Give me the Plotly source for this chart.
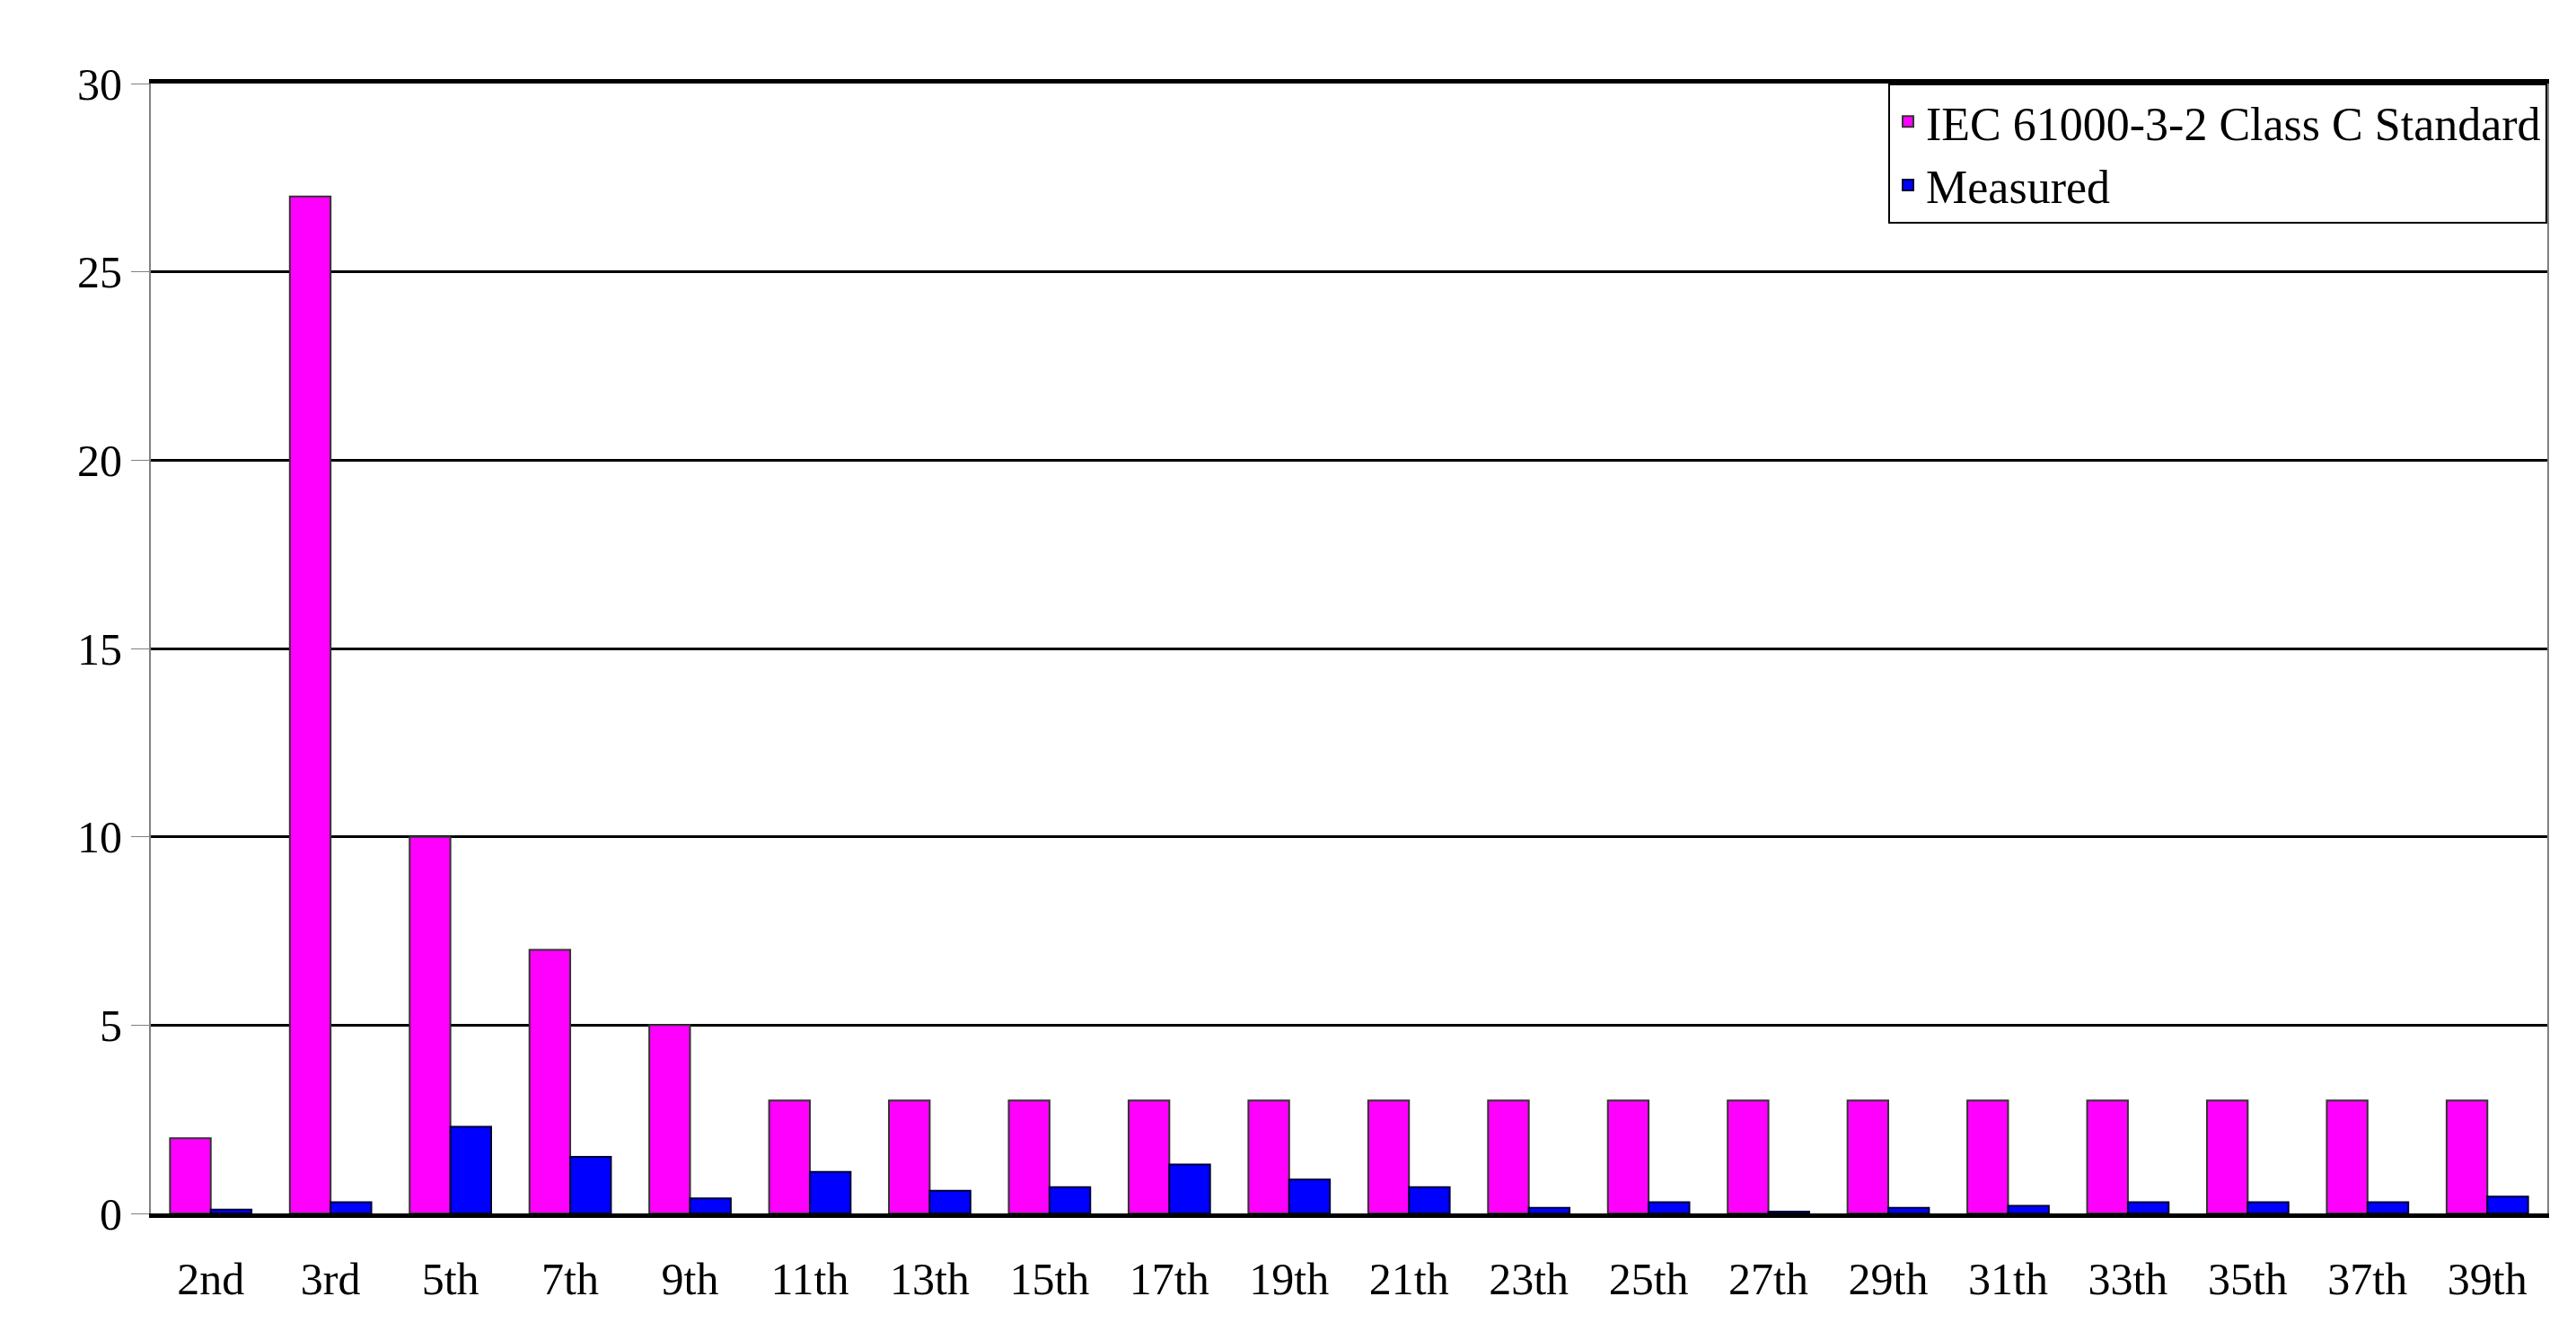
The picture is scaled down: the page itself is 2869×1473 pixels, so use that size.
import plotly.graph_objects as go

categories = ["2nd","3rd","5th","7th","9th","11th","13th","15th","17th","19th","21th","23th","25th","27th","29th","31th","33th","35th","37th","39th"]
standard = [2, 27, 10, 7, 5, 3, 3, 3, 3, 3, 3, 3, 3, 3, 3, 3, 3, 3, 3, 3]
measured = [0.1, 0.3, 2.3, 1.5, 0.4, 1.1, 0.6, 0.7, 1.3, 0.9, 0.7, 0.15, 0.3, 0.05, 0.15, 0.2, 0.3, 0.3, 0.3, 0.45]

fig = go.Figure()
fig.add_bar(x=categories, y=standard, name="IEC 61000-3-2 Class C Standard",
            marker=dict(color="#FF00FF", line=dict(color="#333333", width=2)))
fig.add_bar(x=categories, y=measured, name="Measured",
            marker=dict(color="#0000FF", line=dict(color="#000033", width=2)))
fig.update_layout(
    width=2869, height=1473, barmode="group", bargap=0.32, bargroupgap=0,
    plot_bgcolor="white", paper_bgcolor="white",
    font=dict(family="Liberation Serif", size=52, color="black"),
    margin=dict(l=160, r=40, t=85, b=130),
    legend=dict(x=1, y=1, xanchor="right", yanchor="top", bordercolor="black", borderwidth=2,
                bgcolor="white", font=dict(size=52), tracegroupgap=10),
    xaxis=dict(showline=True, linecolor="black", linewidth=5, ticks="outside", ticklen=25,
               tickcolor="white", tickfont=dict(size=50), mirror=True),
    yaxis=dict(range=[0, 30], dtick=5, showgrid=True, gridcolor="black", gridwidth=3,
               showline=True, linecolor="gray", linewidth=2, mirror=True, zeroline=False,
               ticks="outside", ticklen=20, tickcolor="gray", tickfont=dict(size=50)),
)
fig.write_html("out.html")
